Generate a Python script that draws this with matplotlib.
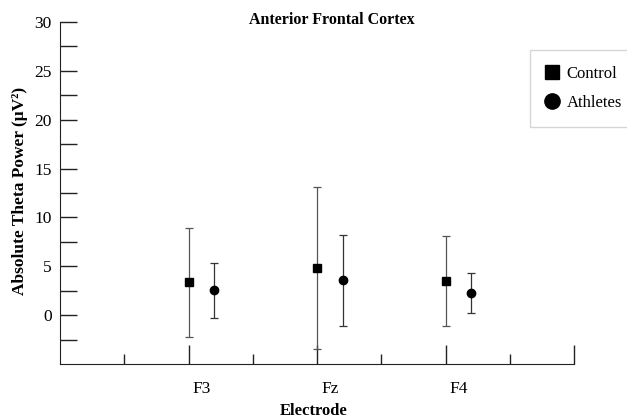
import numpy as np
import matplotlib
matplotlib.use("Agg")
import matplotlib.pyplot as plt
from matplotlib.lines import Line2D

plt.rcParams['font.family'] = ['Liberation Serif', 'DejaVu Serif']

electrodes = ["F3", "Fz", "F4"]
control_mean = [3.35, 4.81, 3.48]
control_hi = [8.87, 13.13, 8.12]
control_lo = [-2.25, -3.48, -1.16]
athletes_mean = [2.53, 3.55, 2.29]
athletes_hi = [5.35, 8.16, 4.33]
athletes_lo = [-0.34, -1.13, 0.20]

pos = np.array([2, 4, 6])
off = 0.4

fig = plt.figure(figsize=(6.27, 4.2), dpi=100)
ax = fig.add_axes([0.0957, 0.1333, 0.8198, 0.8143])

cm = np.array(control_mean)
am = np.array(athletes_mean)
ax.errorbar(pos, cm, yerr=[cm - np.array(control_lo), np.array(control_hi) - cm],
            fmt='none', ecolor='#555555', elinewidth=0.9, capsize=3, capthick=0.9)
ax.errorbar(pos + off, am, yerr=[am - np.array(athletes_lo), np.array(athletes_hi) - am],
            fmt='none', ecolor='#333333', elinewidth=0.9, capsize=3, capthick=0.9)
ax.plot(pos, cm, 's', color='black', markersize=6, zorder=3)
ax.plot(pos + off, am, 'o', color='black', markersize=6, zorder=3)

ax.set_xlim(0, 8)
ax.set_ylim(-5, 30)
ax.spines['top'].set_visible(False)
ax.spines['right'].set_visible(False)
ax.spines['left'].set_color('#222222')
ax.spines['bottom'].set_color('#222222')

ax.set_yticks(np.arange(0, 31, 5))
ax.set_yticks(np.arange(-2.5, 30, 2.5), minor=True)
ax.tick_params(axis='y', which='both', direction='in', length=12, width=1,
               labelsize=12.5, pad=6, color='#222222')

ax.set_xticks([2, 4, 6, 8])
ax.set_xticks([1, 3, 5, 7], minor=True)
ax.set_xticklabels([])
ax.tick_params(axis='x', which='major', direction='in', length=14, width=1, color='#222222')
ax.tick_params(axis='x', which='minor', direction='in', length=7, width=1, color='#222222')
for p, lab in zip(pos, electrodes):
    ax.text(p + off / 2, -7.6, lab, ha='center', va='center', fontsize=12.5)

fig.text(0.53, 0.952, "Anterior Frontal Cortex", ha='center', va='center',
         fontsize=11.5, fontweight='bold')
fig.text(0.5, 0.022, "Electrode", ha='center', va='center',
         fontsize=12, fontweight='bold')
fig.text(0.032, 0.545, "Absolute Theta Power (\u03bcV\u00b2)", ha='center', va='center',
         rotation=90, fontsize=12.5, fontweight='bold')

handles = [Line2D([], [], marker='s', color='black', linestyle='none', markersize=10),
           Line2D([], [], marker='o', color='black', linestyle='none', markersize=11)]
fig.legend(handles, ["Control", "Athletes"], loc='upper left',
           bbox_to_anchor=(0.845, 0.88), borderaxespad=0, frameon=True, fancybox=False,
           edgecolor='#cccccc', fontsize=12, handletextpad=0.45,
           borderpad=0.95, labelspacing=0.75, handlelength=0.8)

fig.savefig("out.png", dpi=100)
